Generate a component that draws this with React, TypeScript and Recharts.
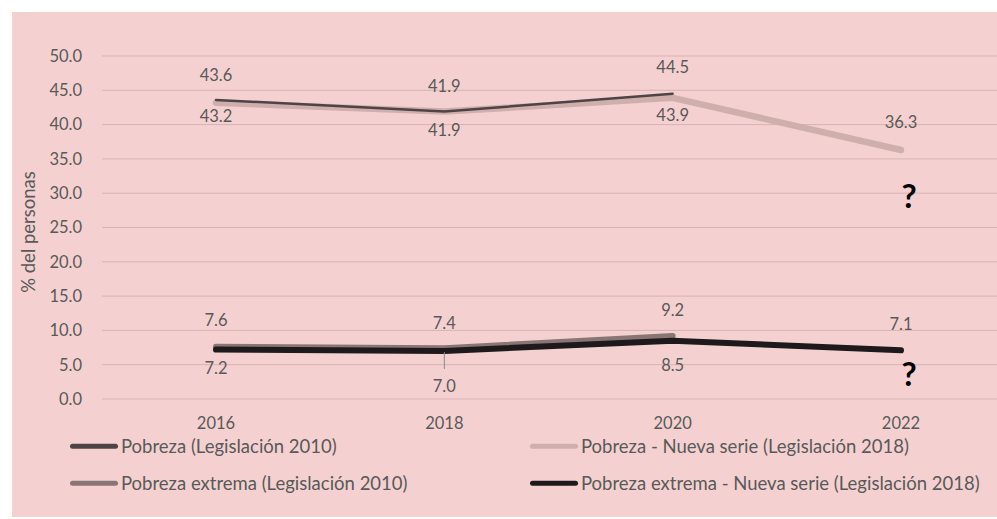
import {
  CartesianGrid,
  LabelList,
  Line,
  LineChart,
  ReferenceDot,
  XAxis,
  YAxis,
} from "recharts";

const years = ["2016", "2018", "2020", "2022"];
const pobreza2010 = [43.6, 41.9, 44.5, null];
const pobrezaNueva = [43.2, 41.9, 43.9, 36.3];
const extrema2010 = [7.6, 7.4, 9.2, null];
const extremaNueva = [7.2, 7.0, 8.5, 7.1];
const yTicks = [0, 5, 10, 15, 20, 25, 30, 35, 40, 45, 50];
// unknown 2022 values for the 2010 series, drawn as "?"
const unknownMarks = [29.7, 3.8];

const seriesNames = {
  pobreza2010: "Pobreza (Legislación 2010)",
  pobrezaNueva: "Pobreza - Nueva serie (Legislación 2018)",
  extrema2010: "Pobreza extrema (Legislación 2010)",
  extremaNueva: "Pobreza extrema - Nueva serie (Legislación 2018)",
};

const data = years.map((year, i) => ({
  year,
  pobreza2010: pobreza2010[i],
  pobrezaNueva: pobrezaNueva[i],
  extrema2010: extrema2010[i],
  extremaNueva: extremaNueva[i],
}));

const FONT = "Lato, 'Open Sans', sans-serif";
const TEXT = "#595959";
const BG = "#F4D1D0";
const GRID = "#D7B3B2";
const NUM_SIZE = 16.5;
const WORD_SIZE = 18.5;

const colors = {
  pobreza2010: "#4E4446",
  pobrezaNueva: "#CFAFAC",
  extrema2010: "#8A7575",
  extremaNueva: "#1E1A1B",
};

// vertical offset of each data label from its point
const labelOffsets: Record<string, number[]> = {
  pobreza2010: [-25, -26, -27, 0],
  pobrezaNueva: [13, 18, 17, -28],
  extrema2010: [-27, -25, -26, 0],
  extremaNueva: [18, 35, 24, -26],
};

function makeLabel(key: string) {
  return (props: any) => {
    const { x, y, value, index } = props;
    if (value == null) return null;
    const dy = labelOffsets[key][index];
    return (
      <g>
        {dy > 30 && (
          <line x1={x} x2={x} y1={y + 1} y2={y + 18} stroke="#8A8A8A" strokeWidth={1} />
        )}
        <text
          x={x}
          y={y + dy}
          textAnchor="middle"
          dominantBaseline="central"
          fill={TEXT}
          fontSize={NUM_SIZE}
          fontFamily={FONT}
        >
          {Number(value).toFixed(1)}
        </text>
      </g>
    );
  };
}

const legendItems = [
  { key: "pobreza2010", left: 58, top: 434 },
  { key: "pobrezaNueva", left: 518, top: 434 },
  { key: "extrema2010", left: 58, top: 471 },
  { key: "extremaNueva", left: 518, top: 471 },
];

export default function App() {
  return (
    <div
      style={{
        position: "absolute",
        left: 12,
        top: 12,
        width: 985,
        height: 505,
        background: BG,
        overflow: "hidden",
        fontFamily: FONT,
      }}
    >
      <LineChart
        width={1003}
        height={430}
        data={data}
        margin={{ top: 44, right: 0, left: 0, bottom: 13 }}
      >
        <CartesianGrid vertical={false} stroke={GRID} strokeWidth={1} />
        <XAxis
          dataKey="year"
          height={30}
          padding={{ left: 114, right: 114 }}
          axisLine={false}
          tickLine={false}
          tickSize={0}
          tickMargin={18}
          tick={{ fill: TEXT, fontSize: NUM_SIZE, fontFamily: FONT }}
        />
        <YAxis
          width={90}
          domain={[0, 50]}
          ticks={yTicks}
          interval={0}
          axisLine={false}
          tickLine={false}
          tickSize={0}
          tickMargin={20}
          tickFormatter={(v: number) => v.toFixed(1)}
          tick={{ fill: TEXT, fontSize: NUM_SIZE, fontFamily: FONT }}
          label={{
            content: () => (
              <text
                transform="translate(16,220) rotate(-90)"
                textAnchor="middle"
                dominantBaseline="central"
                fill={TEXT}
                fontSize={WORD_SIZE}
                fontFamily={FONT}
              >
                % del personas
              </text>
            ),
          }}
        />
        <Line
          dataKey="pobrezaNueva"
          name={seriesNames.pobrezaNueva}
          stroke={colors.pobrezaNueva}
          strokeWidth={6.5}
          strokeLinecap="round"
          strokeLinejoin="round"
          dot={false}
          isAnimationActive={false}
        >
          <LabelList dataKey="pobrezaNueva" content={makeLabel("pobrezaNueva")} />
        </Line>
        <Line
          dataKey="pobreza2010"
          name={seriesNames.pobreza2010}
          stroke={colors.pobreza2010}
          strokeWidth={2.5}
          strokeLinecap="round"
          strokeLinejoin="round"
          dot={false}
          isAnimationActive={false}
        >
          <LabelList dataKey="pobreza2010" content={makeLabel("pobreza2010")} />
        </Line>
        <Line
          dataKey="extrema2010"
          name={seriesNames.extrema2010}
          stroke={colors.extrema2010}
          strokeWidth={6}
          strokeLinecap="round"
          strokeLinejoin="round"
          dot={false}
          isAnimationActive={false}
        >
          <LabelList dataKey="extrema2010" content={makeLabel("extrema2010")} />
        </Line>
        <Line
          dataKey="extremaNueva"
          name={seriesNames.extremaNueva}
          stroke={colors.extremaNueva}
          strokeWidth={6}
          strokeLinecap="round"
          strokeLinejoin="round"
          dot={false}
          isAnimationActive={false}
        >
          <LabelList dataKey="extremaNueva" content={makeLabel("extremaNueva")} />
        </Line>
        {unknownMarks.map((v, i) => (
          <ReferenceDot
            key={i}
            x="2022"
            y={v}
            r={0}
            shape={(p: any) => (
              <text
                x={p.cx + 8}
                y={p.cy}
                textAnchor="middle"
                dominantBaseline="central"
                fill="#000"
                fontSize={33}
                fontWeight="bold"
                fontFamily={FONT}
              >
                ?
              </text>
            )}
          />
        ))}
      </LineChart>
      {legendItems.map((item) => (
        <div
          key={item.key}
          style={{
            position: "absolute",
            left: item.left,
            top: item.top,
            transform: "translateY(-50%)",
            display: "flex",
            alignItems: "center",
            whiteSpace: "nowrap",
            color: TEXT,
            fontSize: WORD_SIZE,
            lineHeight: 1,
          }}
        >
          <span
            style={{
              display: "inline-block",
              width: 48,
              height: 5,
              borderRadius: 3,
              background: colors[item.key as keyof typeof colors],
              marginRight: 3,
            }}
          />
          {seriesNames[item.key as keyof typeof seriesNames]}
        </div>
      ))}
    </div>
  );
}
